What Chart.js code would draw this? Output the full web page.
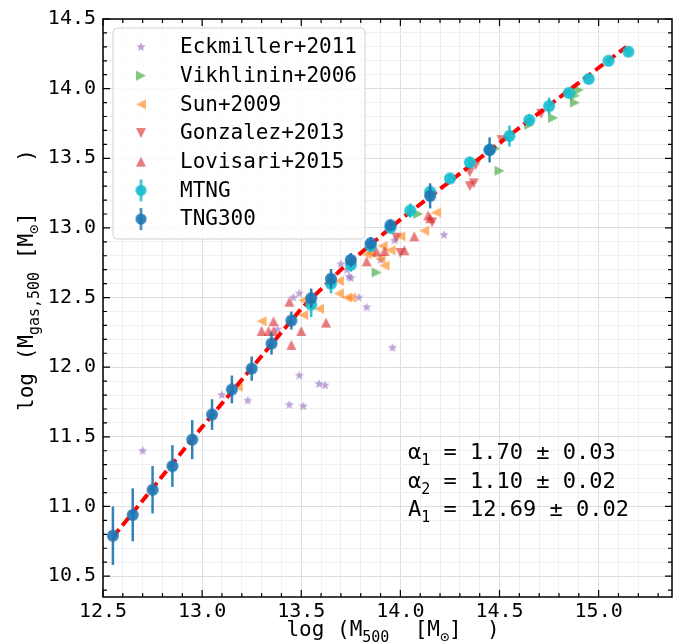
<!DOCTYPE html>
<html>
<head>
<meta charset="utf-8">
<script src="https://cdn.jsdelivr.net/npm/chart.js@4.4.1/dist/chart.umd.min.js"></script>
<style>
  html, body { margin: 0; padding: 0; background: #fff; }
  #wrap { width: 686px; height: 642px; }
</style>
</head>
<body>
<div id="wrap"><canvas id="chart"></canvas></div>
<script>
// observations
const eckX = [12.70, 13.10, 13.23, 13.38, 13.44, 13.46, 13.49, 13.49, 13.51, 13.59, 13.62, 13.70, 13.73, 13.74, 13.75, 13.79, 13.83, 13.90, 13.96, 13.97, 14.22];
const eckY = [11.40, 11.80, 11.76, 12.27, 11.73, 12.50, 12.53, 11.94, 11.72, 11.88, 11.87, 12.74, 12.70, 12.65, 12.64, 12.50, 12.43, 12.77, 12.14, 12.91, 12.95];

const vikX = [13.88, 14.09, 14.48, 14.50, 14.65, 14.77, 14.88, 14.88, 14.90];
const vikY = [12.68, 13.10, 13.57, 13.41, 13.74, 13.79, 13.90, 13.95, 13.99];

const sunX = [13.18, 13.30, 13.51, 13.51, 13.59, 13.69, 13.69, 13.73, 13.75, 13.83, 13.85, 13.90, 13.91, 13.92, 13.95, 14.00, 14.12, 14.18];
const sunY = [11.86, 12.33, 12.48, 12.375, 12.42, 12.62, 12.53, 12.50, 12.50, 12.81, 12.82, 12.78, 12.87, 12.73, 12.84, 12.94, 12.98, 13.11];

const gonX = [13.98, 14.00, 14.16, 14.35, 14.35, 14.37, 14.38, 14.51, 14.71];
const gonY = [12.93, 12.82, 13.04, 13.40, 13.30, 13.32, 13.45, 13.63, 13.82];

const lovX = [13.30, 13.335, 13.36, 13.36, 13.44, 13.45, 13.50, 13.625, 13.83, 13.88, 13.92, 14.02, 14.07, 14.14, 14.15];
const lovY = [12.26, 12.26, 12.26, 12.33, 12.47, 12.16, 12.26, 12.32, 12.76, 12.83, 12.835, 12.84, 12.94, 13.09, 13.07];

// simulations (median + error)
const mtngX = [13.55, 13.65, 13.75, 13.85, 13.95, 14.05, 14.15, 14.25, 14.35, 14.45, 14.55, 14.65, 14.75, 14.85, 14.95, 15.05, 15.15];
const mtngY = [12.45, 12.60, 12.735, 12.87, 13.00, 13.125, 13.26, 13.355, 13.47, 13.56, 13.66, 13.775, 13.875, 13.97, 14.07, 14.20, 14.265];
const mtngErr = [0.09, 0.07, 0.05, 0.04, 0.03, 0.05, 0.04, 0.035, 0.04, 0.03, 0.075, 0.04, 0.06, 0.03, 0.03, 0.02, 0.02];

const tngX = [12.55, 12.65, 12.75, 12.85, 12.95, 13.05, 13.15, 13.25, 13.35, 13.45, 13.55, 13.65, 13.75, 13.85, 13.95, 14.15, 14.45];
const tngY = [10.79, 10.94, 11.12, 11.29, 11.48, 11.66, 11.84, 11.99, 12.17, 12.335, 12.495, 12.635, 12.77, 12.89, 13.02, 13.23, 13.56];
const tngErr = [0.21, 0.19, 0.17, 0.15, 0.14, 0.11, 0.10, 0.087, 0.08, 0.065, 0.07, 0.07, 0.05, 0.045, 0.04, 0.09, 0.09];

// broken power-law fit
const fitX = [12.55, 13.0, 13.5, 13.7, 14.0, 14.5, 15.0, 15.14];
const fitY = [10.78, 11.57, 12.42, 12.70, 13.06, 13.61, 14.15, 14.30];

const xMajor = [12.5, 13.0, 13.5, 14.0, 14.5, 15.0];
const yMajor = [10.5, 11.0, 11.5, 12.0, 12.5, 13.0, 13.5, 14.0, 14.5];

const fitText = [
  ['α', '1', ' = 1.70 ± 0.03'],
  ['α', '2', ' = 1.10 ± 0.02'],
  ['A', '1', ' = 12.69 ± 0.02']
];

const FONT = '"DejaVu Sans Mono", "Liberation Mono", monospace';

function pts(xs, ys) {
  return xs.map((x, i) => ({x: x, y: ys[i]}));
}

// marker images
function marker(shape, color, r, bar) {
  const h = bar ? Math.ceil(bar) + 2 : Math.ceil(r * 2 + 4);
  const w = Math.ceil(r * 2 + 4);
  const c = document.createElement('canvas');
  c.width = w; c.height = h;
  const g = c.getContext('2d');
  const cx = w / 2, cy = h / 2;
  g.fillStyle = color;
  g.strokeStyle = color;
  if (bar) {
    g.lineWidth = 2.5;
    g.beginPath();
    g.moveTo(cx, cy - bar / 2);
    g.lineTo(cx, cy + bar / 2);
    g.stroke();
  }
  g.beginPath();
  if (shape == 'circle') {
    g.arc(cx, cy, r, 0, Math.PI * 2);
  } else if (shape == 'star') {
    for (let i = 0; i < 10; i++) {
      const rr = i % 2 ? r * 0.45 : r;
      const a = -Math.PI / 2 + i * Math.PI / 5;
      g.lineTo(cx + rr * Math.cos(a), cy + rr * Math.sin(a));
    }
  } else {
    const rot = {up: 0, right: 90, down: 180, left: 270}[shape] * Math.PI / 180;
    const v = [[0, -r], [-r, r], [r, r]];
    v.forEach(p => {
      const x = p[0] * Math.cos(rot) - p[1] * Math.sin(rot);
      const y = p[0] * Math.sin(rot) + p[1] * Math.cos(rot);
      g.lineTo(cx + x, cy + y);
    });
  }
  g.closePath();
  g.fill();
  return c;
}

const cEck = 'rgba(148,103,189,0.6)';
const cVik = 'rgba(44,160,44,0.6)';
const cSun = 'rgba(255,127,14,0.6)';
const cGon = 'rgba(214,39,40,0.6)';
const cLov = 'rgba(214,39,40,0.6)';
const cMtng = 'rgba(23,190,207,0.92)';
const cTng = 'rgba(31,119,180,0.92)';

function obs(label, xs, ys, shape, color, r, order) {
  return {
    label: label,
    data: pts(xs, ys),
    pointStyle: marker(shape, color, r),
    legendStyle: marker(shape, color, r),
    order: order
  };
}

const datasets = [
  obs('Eckmiller+2011', eckX, eckY, 'star', cEck, 4.8, 7),
  obs('Vikhlinin+2006', vikX, vikY, 'right', cVik, 5, 6),
  obs('Sun+2009', sunX, sunY, 'left', cSun, 5, 5),
  obs('Gonzalez+2013', gonX, gonY, 'down', cGon, 5, 4),
  obs('Lovisari+2015', lovX, lovY, 'up', cLov, 5, 3),
  {
    label: 'MTNG',
    data: pts(mtngX, mtngY),
    errors: mtngErr,
    errColor: cMtng,
    pointStyle: marker('circle', cMtng, 6),
    legendStyle: marker('circle', cMtng, 5.5, 22),
    order: 1
  },
  {
    label: 'TNG300',
    data: pts(tngX, tngY),
    errors: tngErr,
    errColor: cTng,
    pointStyle: marker('circle', cTng, 6),
    legendStyle: marker('circle', cTng, 5.5, 22),
    order: 0
  },
  {
    label: 'fit',
    data: pts(fitX, fitY),
    showLine: true,
    pointRadius: 0,
    borderColor: '#ff0000',
    borderWidth: 4,
    borderDash: [10, 5],
    noLegend: true,
    order: 2
  }
];

function onStep(v, list) {
  return list.some(m => Math.abs(m - v) < 1e-6);
}

function gridColor(ctx) {
  const v = ctx.tick ? ctx.tick.value : 0;
  const k = Math.round(v * 10);
  if (Math.abs(v * 10 - k) > 1e-4) return 'rgba(0,0,0,0)';
  return k % 5 == 0 ? '#dedede' : '#f0f0f0';
}

function richParts(g, parts, size, sub) {
  return parts.map((p, i) => {
    const isSub = i % 2 == 1;
    g.font = (isSub ? sub : size) + 'px ' + FONT;
    return {t: p, sub: isSub, w: g.measureText(p).width};
  });
}

function drawRich(g, parts, x, y, size, sub, center) {
  const ps = richParts(g, parts, size, sub);
  const total = ps.reduce((s, p) => s + p.w, 0);
  let cx = center ? x - total / 2 : x;
  ps.forEach(p => {
    g.font = (p.sub ? sub : size) + 'px ' + FONT;
    g.fillText(p.t, cx, p.sub ? y + size * 0.28 : y);
    cx += p.w;
  });
}

const errorBars = {
  id: 'errorBars',
  beforeDatasetDraw(chart, args) {
    const ds = chart.data.datasets[args.index];
    if (!ds.errors) return;
    const g = chart.ctx, x = chart.scales.x, y = chart.scales.y;
    g.save();
    g.strokeStyle = ds.errColor;
    g.lineWidth = 2.5;
    ds.data.forEach((p, i) => {
      const px = x.getPixelForValue(p.x);
      g.beginPath();
      g.moveTo(px, y.getPixelForValue(p.y - ds.errors[i]));
      g.lineTo(px, y.getPixelForValue(p.y + ds.errors[i]));
      g.stroke();
    });
    g.restore();
  }
};

const decor = {
  id: 'decor',
  afterDatasetsDraw(chart) {
    const g = chart.ctx, a = chart.chartArea;
    // legend
    const items = chart.data.datasets.filter(d => !d.noLegend);
    const x0 = a.left + 10, y0 = a.top + 9;
    const rowH = 28.67, first = a.top + 28;
    g.save();
    g.font = '21px ' + FONT;
    let maxW = 0;
    items.forEach(d => { maxW = Math.max(maxW, g.measureText(d.label).width); });
    const bw = (a.left + 77 + maxW + 8) - x0;
    const bh = first + rowH * (items.length - 1) + 20 - y0;
    g.beginPath();
    g.roundRect(x0, y0, bw, bh, 4);
    g.fillStyle = 'rgba(255,255,255,0.8)';
    g.fill();
    g.strokeStyle = '#d0d0d0';
    g.lineWidth = 1;
    g.stroke();
    g.fillStyle = '#000';
    g.textBaseline = 'middle';
    items.forEach((d, i) => {
      const yy = first + i * rowH;
      const img = d.legendStyle;
      g.drawImage(img, a.left + 38 - img.width / 2, yy - img.height / 2);
      g.fillText(d.label, a.left + 77, yy + 1);
    });
    // fit parameters
    g.textBaseline = 'alphabetic';
    fitText.forEach((line, i) => {
      drawRich(g, line, 408, 459 + i * 28.5, 22, 15, false);
    });
    g.restore();
  },
  afterDraw(chart) {
    const g = chart.ctx, a = chart.chartArea, sx = chart.scales.x, sy = chart.scales.y;
    g.save();
    g.strokeStyle = '#000';
    g.lineWidth = 1.2;
    g.beginPath();
    for (let k = Math.ceil(sx.min * 10 - 1e-6); k <= Math.floor(sx.max * 10 + 1e-6); k++) {
      const p = sx.getPixelForValue(k / 10);
      const len = k % 5 == 0 ? 7 : 4;
      g.moveTo(p, a.bottom); g.lineTo(p, a.bottom - len);
      g.moveTo(p, a.top); g.lineTo(p, a.top + len);
    }
    for (let k = Math.ceil(sy.min * 10 - 1e-6); k <= Math.floor(sy.max * 10 + 1e-6); k++) {
      const p = sy.getPixelForValue(k / 10);
      const len = k % 5 == 0 ? 7 : 4;
      g.moveTo(a.left, p); g.lineTo(a.left + len, p);
      g.moveTo(a.right, p); g.lineTo(a.right - len, p);
    }
    g.stroke();
    g.lineWidth = 1.5;
    g.strokeRect(a.left, a.top, a.right - a.left, a.bottom - a.top);
    // axis titles
    g.fillStyle = '#000';
    g.textBaseline = 'alphabetic';
    drawRich(g, ['log (M', '500', '  [M', '⊙', ']  )'], 393, 636, 21, 15, true);
    g.translate(33, 280);
    g.rotate(-Math.PI / 2);
    drawRich(g, ['log (M', 'gas,500', ' [M', '⊙', ']    )'], 0, 0, 21, 15, true);
    g.restore();
  }
};

const tickFont = {family: FONT, size: 20};

new Chart(document.getElementById('chart'), {
  type: 'scatter',
  data: {datasets: datasets},
  options: {
    responsive: true,
    maintainAspectRatio: false,
    devicePixelRatio: 1,
    animation: false,
    layout: {padding: {top: 18, right: 14, left: 0, bottom: 0}},
    plugins: {
      legend: {display: false},
      tooltip: {enabled: false}
    },
    scales: {
      x: {
        type: 'linear',
        min: 12.5,
        max: 15.37,
        afterFit: (s) => { s.height = 45; },
        border: {display: false},
        grid: {color: gridColor, lineWidth: 1, drawTicks: false},
        ticks: {
          stepSize: 0.1,
          autoSkip: false,
          maxRotation: 0,
          padding: 3,
          color: '#000',
          font: tickFont,
          callback: (v) => onStep(v, xMajor) ? v.toFixed(1) : ''
        }
      },
      y: {
        type: 'linear',
        min: 10.35,
        max: 14.5,
        afterFit: (s) => { s.width = 103; },
        border: {display: false},
        grid: {color: gridColor, lineWidth: 1, drawTicks: false},
        ticks: {
          stepSize: 0.1,
          autoSkip: false,
          padding: 7,
          color: '#000',
          font: tickFont,
          callback: (v) => onStep(v, yMajor) ? v.toFixed(1) : ''
        }
      }
    }
  },
  plugins: [errorBars, decor]
});
</script>
</body>
</html>
